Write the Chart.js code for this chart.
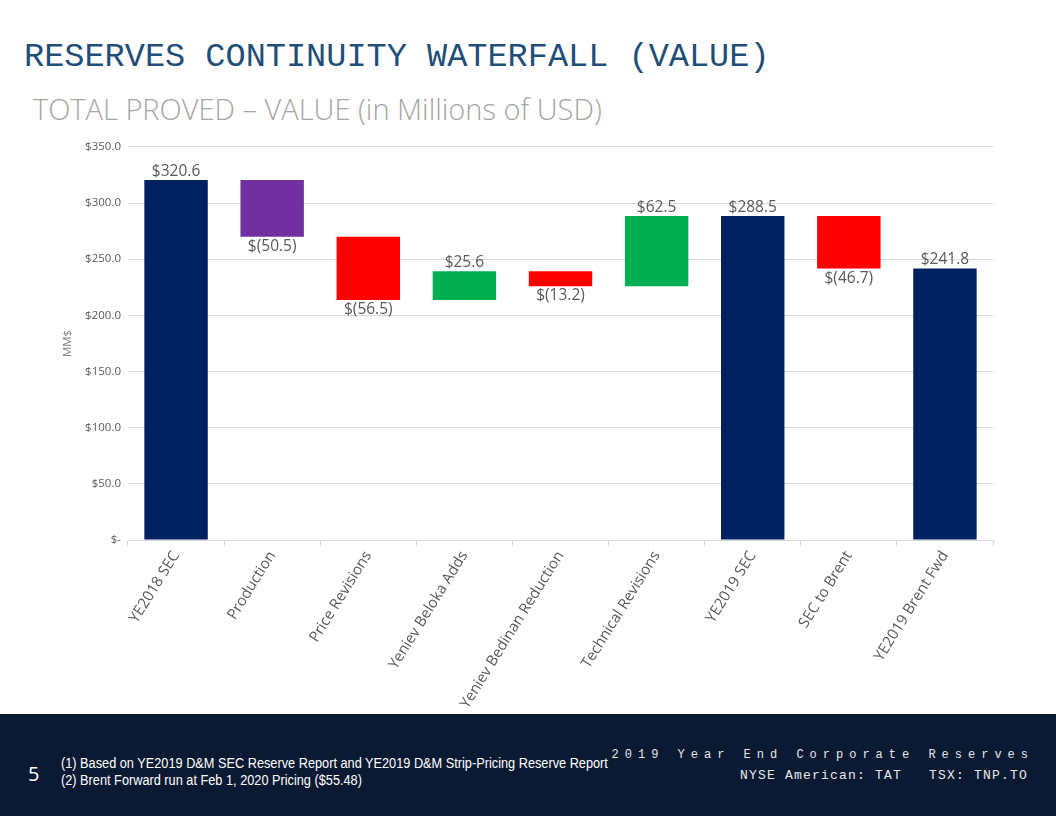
<!DOCTYPE html>
<html>
<head>
<meta charset="utf-8">
<script src="https://cdn.jsdelivr.net/npm/chart.js@4.4.1/dist/chart.umd.min.js"></script>
<style>
  body { margin: 0; width: 1056px; height: 816px; background: #ffffff; position: relative; overflow: hidden; font-family: "Open Sans", sans-serif; }
  #title { position: absolute; left: 24px; top: 38px; font-family: "Liberation Mono", monospace; font-size: 33.6px; color: #1F4E79; white-space: nowrap; }
  #subtitle { position: absolute; left: 33px; top: 89px; font-family: "Open Sans", sans-serif; font-weight: 300; font-size: 29px; color: #A6A6A6; white-space: nowrap; }
  #chartBox { position: absolute; left: 50px; top: 133px; width: 950px; height: 580px; }
  #footer { position: absolute; left: 0; top: 714px; width: 1056px; height: 102px; background: #0B1A33; color: #ffffff; }
  #pageNum { position: absolute; left: 28px; top: 46px; font-size: 20px; font-family: "Open Sans", sans-serif; }
  #notes { position: absolute; left: 61px; top: 41px; font-family: "Liberation Sans", sans-serif; font-size: 14px; line-height: 17px; white-space: nowrap; transform: scaleX(0.91); transform-origin: left top; }
  #tag1 { position: absolute; right: 28px; top: 34px; font-family: "Liberation Mono", monospace; font-size: 12px; letter-spacing: 6px; margin-right: -6px; color: #E6E6E6; white-space: pre; }
  #tag2 { position: absolute; right: 28px; top: 54px; font-family: "Liberation Mono", monospace; font-size: 13px; letter-spacing: 1.2px; color: #E6E6E6; white-space: pre; }
</style>
</head>
<body>
<div id="title">RESERVES CONTINUITY WATERFALL (VALUE)</div>
<div id="subtitle">TOTAL PROVED – VALUE (in Millions of USD)</div>
<div id="chartBox"><canvas id="waterfallChart"></canvas></div>
<div id="footer">
  <div id="pageNum">5</div>
  <div id="notes">(1) Based on YE2019 D&amp;M SEC Reserve Report and YE2019 D&amp;M Strip-Pricing Reserve Report<br>(2) Brent Forward run at Feb 1, 2020 Pricing ($55.48)</div>
  <div id="tag1">2019 Year End Corporate Reserves</div>
  <div id="tag2">NYSE American: TAT   TSX: TNP.TO</div>
</div>
<script>
// categories & values (MM$)
const categories = ['YE2018 SEC', 'Production', 'Price Revisions', 'Yeniev Beloka Adds',
  'Yeniev Bedinan Reduction', 'Technical Revisions', 'YE2019 SEC', 'SEC to Brent', 'YE2019 Brent Fwd'];
const values = [320.6, -50.5, -56.5, 25.6, -13.2, 62.5, 288.5, -46.7, 241.8];
const isTotal = [true, false, false, false, false, false, true, false, true];
const barColors = ['#002060', '#7030A0', '#FF0000', '#00B050', '#FF0000', '#00B050', '#002060', '#FF0000', '#002060'];
const yTicks = [0, 50, 100, 150, 200, 250, 300, 350];

// build floating [low, high] pairs for the waterfall
let running = 0;
const floating = values.map((v, i) => {
  if (isTotal[i]) { running = v; return [0, v]; }
  const start = running;
  running = start + v;
  return [Math.min(start, running), Math.max(start, running)];
});

function money(v) {
  if (v === 0) return '$-';
  if (v < 0) return '$(' + Math.abs(v).toFixed(1) + ')';
  return '$' + v.toFixed(1);
}

// value labels above (positive / totals) or below (negative) each bar
const valueLabels = {
  id: 'valueLabels',
  afterDatasetsDraw(chart) {
    const ctx = chart.ctx;
    const meta = chart.getDatasetMeta(0);
    ctx.save();
    ctx.font = '15.5px "Open Sans", sans-serif';
    ctx.fillStyle = '#595959';
    ctx.textAlign = 'center';
    meta.data.forEach((bar, i) => {
      const v = values[i];
      const top = Math.min(bar.y, bar.base);
      const bottom = Math.max(bar.y, bar.base);
      if (v < 0 && !isTotal[i]) {
        ctx.textBaseline = 'top';
        ctx.fillText(money(v), bar.x, bottom + 2);
      } else {
        ctx.textBaseline = 'bottom';
        ctx.fillText(money(v), bar.x, top - 1);
      }
    });
    ctx.restore();
  }
};

const ctx = document.getElementById('waterfallChart');
new Chart(ctx, {
  type: 'bar',
  data: {
    labels: categories,
    datasets: [{
      label: 'Value',
      data: floating,
      backgroundColor: barColors,
      borderWidth: 0,
      barPercentage: 0.66,
      categoryPercentage: 1.0
    }]
  },
  options: {
    responsive: true,
    maintainAspectRatio: false,
    animation: false,
    layout: { padding: { top: 8, right: 7, left: 0, bottom: 0 } },
    scales: {
      x: {
        offset: true,
        grid: { display: true, drawOnChartArea: false, drawTicks: true, tickLength: 6, color: '#D9D9D9', offset: true },
        border: { display: true, color: '#D9D9D9' },
        ticks: {
          color: '#595959',
          font: { family: '"Open Sans", sans-serif', size: 15 },
          minRotation: 58,
          maxRotation: 58,
          autoSkip: false,
          padding: 2
        },
        afterFit: s => { s.height = 173; }
      },
      y: {
        min: 0,
        max: 350,
        afterBuildTicks: s => { s.ticks = yTicks.map(v => ({ value: v })); },
        grid: { color: '#D9D9D9', drawTicks: false },
        border: { display: false },
        ticks: {
          color: '#595959',
          font: { family: '"Open Sans", sans-serif', size: 11.5 },
          padding: 7,
          callback: v => money(v)
        },
        title: {
          display: true,
          text: 'MM$',
          color: '#808080',
          font: { family: '"Open Sans", sans-serif', size: 11.5 },
          padding: { top: 11, bottom: 0 }
        },
        afterFit: s => { s.width = 78; }
      }
    },
    plugins: {
      legend: { display: false },
      tooltip: { enabled: false }
    }
  },
  plugins: [valueLabels]
});
</script>
</body>
</html>
